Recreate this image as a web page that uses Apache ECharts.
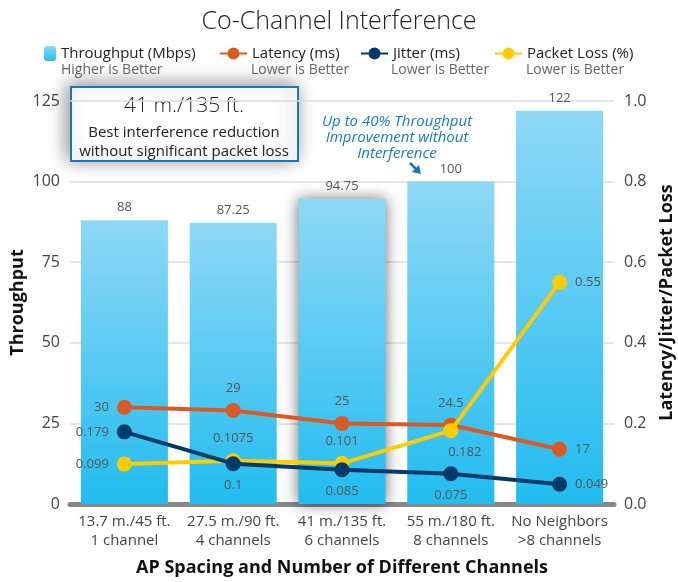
<!DOCTYPE html>
<html><head><meta charset="utf-8">
<script src="https://cdn.jsdelivr.net/npm/echarts@6/dist/echarts.min.js"></script>
<style>html,body{margin:0;padding:0;background:#fff}#c{width:678px;height:582px}</style>
</head><body><div id="c"></div>
<script>
var categories = ['13.7 m./45 ft.\n1 channel','27.5 m./90 ft.\n4 channels','41 m./135 ft.\n6 channels','55 m./180 ft.\n8 channels','No Neighbors\n>8 channels'];
var throughput = [88, 87.25, 94.75, 100, 122];
var latency = [30, 29, 25, 24.5, 17];
var jitter = [0.179, 0.1, 0.085, 0.075, 0.049];
var packetLoss = [0.099, 0.1075, 0.101, 0.182, 0.55];
var leftTicks = {min:0, max:125, interval:25};
var rightTicks = {min:0, max:1, interval:0.2};

var FONT = '"Open Sans", "Noto Sans", sans-serif';
var latPos = ['left','top','top','top','right'];
var jitPos = ['left','bottom','bottom','bottom','right'];
var plPos = ['left','top','top','bottom','right'];
var plOff = [[0,0],[0,0],[0,0],[14,0],[0,0]];

function pts(vals, pos, off){
  return vals.map(function(v,i){
    return {value:v, label:{position:pos[i], offset: off? off[i]:[0,0]}};
  });
}
var barGrad = new echarts.graphic.LinearGradient(0,0,0,1,[{offset:0,color:'#8fd8f6'},{offset:1,color:'#22bcef'}]);
var barData = throughput.map(function(v,i){
  var d = {value:v};
  if(i===2){ d.itemStyle = {shadowBlur:14, shadowColor:'rgba(0,0,0,0.55)', shadowOffsetX:0, shadowOffsetY:0}; }
  return d;
});
var labelStyle = {show:true, color:'#555', fontSize:13, fontFamily:FONT, distance:6};
var legText = {fontSize:15, color:'#222', fontFamily:FONT, lineHeight:17};

var chart = echarts.init(document.getElementById('c'), null, {renderer:'canvas'});
chart.setOption({
  animation:false,
  title:{text:'Co-Channel Interference', left:'center', top:4, textStyle:{fontSize:25, fontWeight:'lighter', color:'#222', fontFamily:FONT}},
  legend:[
    {data:['Throughput (Mbps)'], left:39, top:40, itemWidth:12, itemHeight:15, itemGap:5, textStyle:legText},
    {data:['Latency (ms)'], left:214, top:40, itemWidth:27, itemHeight:15, textStyle:legText},
    {data:['Jitter (ms)'], left:355, top:40, itemWidth:27, itemHeight:15, textStyle:legText},
    {data:['Packet Loss (%)'], left:489, top:40, itemWidth:27, itemHeight:15, textStyle:legText}
  ],
  grid:{left:70, right:64, top:101, bottom:78, outerBoundsMode:'none', containLabel:false},
  xAxis:{type:'category', data:categories,
    name:'AP Spacing and Number of Different Channels', nameLocation:'middle', nameGap:55,
    nameTextStyle:{fontSize:18, fontWeight:'bold', color:'#111', fontFamily:FONT},
    axisLine:{lineStyle:{color:'#888', width:5, cap:'round'}}, axisTick:{show:false},
    axisLabel:{interval:0, fontSize:15, color:'#444', lineHeight:19, margin:8, fontFamily:FONT}},
  yAxis:[
    {type:'value', min:leftTicks.min, max:leftTicks.max, interval:leftTicks.interval,
     name:'Throughput', nameLocation:'middle', nameGap:43, nameRotate:90, nameMoveOverlap:false,
     nameTextStyle:{fontSize:18, fontWeight:'bold', color:'#111', fontFamily:FONT},
     axisLine:{show:false}, axisTick:{show:false},
     axisLabel:{fontSize:16, color:'#444', margin:10, fontFamily:FONT},
     splitLine:{lineStyle:{color:'#ddd', width:1.5}}},
    {type:'value', min:rightTicks.min, max:rightTicks.max, interval:rightTicks.interval,
     name:'Latency/Jitter/Packet Loss', nameLocation:'middle', nameGap:44, nameRotate:90,
     nameTextStyle:{fontSize:18, fontWeight:'bold', color:'#111', fontFamily:FONT},
     axisLine:{show:false}, axisTick:{show:false},
     axisLabel:{fontSize:16, color:'#444', margin:10, fontFamily:FONT, formatter:function(v){return v.toFixed(1);}},
     splitLine:{show:false}}
  ],
  series:[
    {name:'Throughput (Mbps)', type:'bar', data:barData, barCategoryGap:'20%', yAxisIndex:0,
     itemStyle:{color:barGrad}, label:Object.assign({position:'top'}, labelStyle)},
    {name:'Latency (ms)', type:'line', yAxisIndex:0, data:pts(latency, latPos),
     symbol:'circle', symbolSize:15, lineStyle:{width:4, color:'#d95a24'}, itemStyle:{color:'#d95a24'},
     label:Object.assign({}, labelStyle, {distance:8}), z:3},
    {name:'Packet Loss (%)', type:'line', yAxisIndex:1, data:pts(packetLoss, plPos, plOff),
     symbol:'circle', symbolSize:15, lineStyle:{width:4, color:'#ffcc00'}, itemStyle:{color:'#ffcc00'},
     label:Object.assign({}, labelStyle, {distance:8}), z:4},
    {name:'Jitter (ms)', type:'line', yAxisIndex:1, data:pts(jitter, jitPos),
     symbol:'circle', symbolSize:15, lineStyle:{width:4, color:'#003a68'}, itemStyle:{color:'#003a68'},
     label:Object.assign({}, labelStyle, {distance:8}), z:5}
  ],
  graphic:[
    {type:'text', left:61, top:63, style:{text:'Higher is Better', fill:'#666', font:'14px '+FONT}},
    {type:'text', left:251, top:63, style:{text:'Lower is Better', fill:'#666', font:'14px '+FONT}},
    {type:'text', left:391, top:63, style:{text:'Lower is Better', fill:'#666', font:'14px '+FONT}},
    {type:'text', left:526, top:63, style:{text:'Lower is Better', fill:'#666', font:'14px '+FONT}},
    {type:'group', left:70, top:86, z:100, children:[
      {type:'rect', shape:{x:0, y:0, width:227, height:74},
       style:{fill:'#fff', stroke:'#1b75bb', lineWidth:2, shadowBlur:18, shadowColor:'rgba(0,0,0,0.45)', shadowOffsetX:-3, shadowOffsetY:-2}},
      {type:'text', x:113, y:9, style:{text:'41 m./135 ft.', fill:'#222', font:'lighter 21px '+FONT, textAlign:'center'}},
      {type:'text', x:113, y:36, style:{text:'Best interference reduction\nwithout significant packet loss', fill:'#222', font:'15px '+FONT, textAlign:'center', lineHeight:19}}
    ]},
    {type:'text', x:397, y:114, z:100, style:{text:'Up to 40% Throughput\nImprovement without\nInterference', fill:'#1b7ac2', font:'italic 15px '+FONT, textAlign:'center', lineHeight:16}},
    {type:'line', z:100, shape:{x1:410, y1:163, x2:417, y2:170}, style:{stroke:'#1b75bb', lineWidth:2.5}},
    {type:'polygon', z:100, shape:{points:[[421,174],[412,172],[419,165]]}, style:{fill:'#1b75bb'}}
  ]
});
</script></body></html>
